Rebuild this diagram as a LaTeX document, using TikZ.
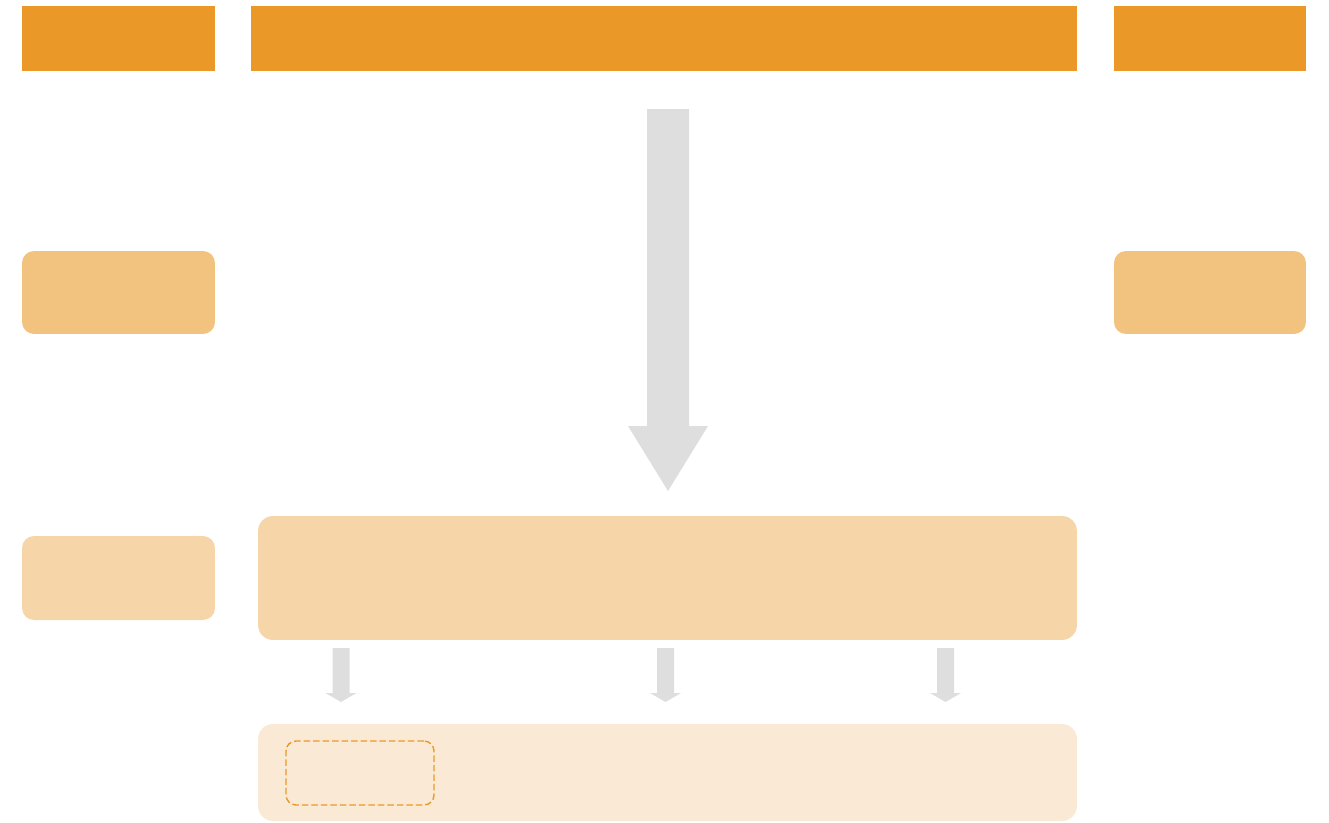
\documentclass[tikz,border=0pt]{standalone}
\usepackage{tikz}
\usetikzlibrary{positioning}

\definecolor{entete}{HTML}{EA9828}
\definecolor{orangemoyen}{HTML}{F2C27F}
\definecolor{orangeclair}{HTML}{F6D5A8}
\definecolor{orangepale}{HTML}{FAEAD5}
\definecolor{grisfleche}{HTML}{DDDEDD}

\tikzset{
  bandeau/.style={fill=entete, draw=none, inner sep=0, outer sep=0, minimum height=1.30cm},
  bloc/.style={draw=none, inner sep=0, outer sep=0, rounded corners=0.24cm, minimum width=3.86cm},
  cadre/.style={draw=entete, dashed, dash pattern=on 0.13cm off 0.06cm, line width=0.8pt, rounded corners=0.2cm, inner sep=0, minimum width=2.96cm, minimum height=1.28cm}
}

\begin{document}
\begin{tikzpicture}[x=0.02cm, y=-0.02cm]
        % Cadre de la figure
        \useasboundingbox (0,0) rectangle (1329,822);

        % Les bandeaux du haut
        \node[bandeau, minimum width=3.86cm] (gauche) at (118.5,38.5) {};
        \node[bandeau, minimum width=16.52cm] (centre) at (664,38.5) {};
        \node[bandeau, minimum width=3.84cm] (droite) at (1210,38.5) {};

        % Blocs des colonnes laterales
        \node[bloc, fill=orangemoyen, minimum height=1.66cm] (g1) at (118.5,292.5) {};
        \node[bloc, fill=orangemoyen, minimum width=3.84cm, minimum height=1.66cm] (d1) at (1210,292.5) {};
        \node[bloc, fill=orangeclair, minimum height=1.68cm] (g2) at (118.5,578) {};

        % Blocs du centre
        \node[bloc, fill=orangeclair, rounded corners=0.3cm, minimum width=16.38cm, minimum height=2.48cm] (milieu) at (667.5,578) {};
        \node[bloc, fill=orangepale, rounded corners=0.3cm, minimum width=16.38cm, minimum height=1.94cm] (bas) at (667.5,772.5) {};
        \node[cadre] (pointille) at (360,773) {};

        % Grande fleche
        \coordinate (F) at (668,109);
        \fill[grisfleche] (F) ++(-21,0) -- ++(42,0) -- ++(0,317) -- ++(19,0)
            -- ++(-40,65) -- ++(-40,-65) -- ++(19,0) -- cycle;

        % Petites fleches entre les deux blocs
        \foreach \x in {341,665.5,945.5}{
            \fill[grisfleche] (\x-8.5,648) -- (\x+8.5,648) -- (\x+8.5,693) -- (\x+15.5,693)
                -- (\x,702) -- (\x-15.5,693) -- (\x-8.5,693) -- cycle;
        }
    \end{tikzpicture}
\end{document}
